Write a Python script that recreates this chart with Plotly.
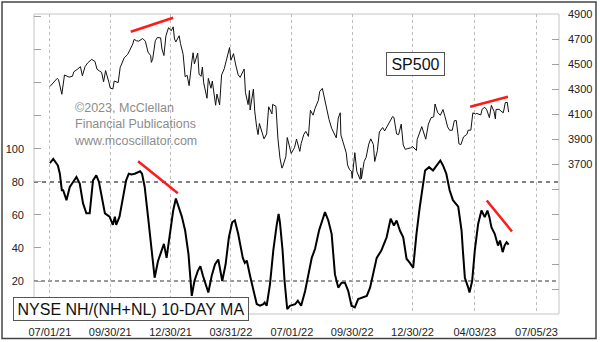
import plotly.graph_objects as go

# ---- S&P 500 daily closes (sampled) ----
sp_dates = [
    "2021-07-01", "2021-07-07", "2021-07-12", "2021-07-14", "2021-07-19", "2021-07-23", "2021-07-27",
    "2021-07-30", "2021-08-04", "2021-08-06", "2021-08-12", "2021-08-16", "2021-08-19", "2021-08-23",
    "2021-08-27", "2021-09-02", "2021-09-07", "2021-09-10", "2021-09-14", "2021-09-17", "2021-09-20",
    "2021-09-23", "2021-09-28", "2021-09-30", "2021-10-04", "2021-10-06", "2021-10-12", "2021-10-15",
    "2021-10-21", "2021-10-26", "2021-10-29", "2021-11-03", "2021-11-05", "2021-11-09", "2021-11-12",
    "2021-11-18", "2021-11-22", "2021-11-26", "2021-11-30", "2021-12-01", "2021-12-03", "2021-12-07",
    "2021-12-10", "2021-12-15", "2021-12-17", "2021-12-20", "2021-12-23", "2021-12-27", "2021-12-31",
    "2022-01-03", "2022-01-05", "2022-01-07", "2022-01-12", "2022-01-14", "2022-01-18", "2022-01-21",
    "2022-01-24", "2022-01-27", "2022-01-31", "2022-02-02", "2022-02-04", "2022-02-09", "2022-02-11",
    "2022-02-14", "2022-02-16", "2022-02-18", "2022-02-23", "2022-02-25", "2022-03-01", "2022-03-03",
    "2022-03-08", "2022-03-10", "2022-03-14", "2022-03-17", "2022-03-21", "2022-03-25", "2022-03-29",
    "2022-03-31", "2022-04-04", "2022-04-07", "2022-04-11", "2022-04-14", "2022-04-20", "2022-04-22",
    "2022-04-26", "2022-04-28", "2022-04-29", "2022-05-04", "2022-05-06", "2022-05-09", "2022-05-11",
    "2022-05-13", "2022-05-18", "2022-05-20", "2022-05-24", "2022-05-27", "2022-06-01", "2022-06-02",
    "2022-06-07", "2022-06-10", "2022-06-13", "2022-06-16", "2022-06-17", "2022-06-22", "2022-06-24",
    "2022-06-28", "2022-06-30", "2022-07-05", "2022-07-08", "2022-07-13", "2022-07-15", "2022-07-19",
    "2022-07-22", "2022-07-26", "2022-07-29", "2022-08-02", "2022-08-05", "2022-08-10", "2022-08-12",
    "2022-08-16", "2022-08-19", "2022-08-23", "2022-08-26", "2022-08-30", "2022-09-01", "2022-09-06",
    "2022-09-09", "2022-09-12", "2022-09-13", "2022-09-16", "2022-09-21", "2022-09-23", "2022-09-26",
    "2022-09-29", "2022-09-30", "2022-10-04", "2022-10-07", "2022-10-12", "2022-10-13", "2022-10-14",
    "2022-10-18", "2022-10-21", "2022-10-25", "2022-10-28", "2022-11-01", "2022-11-03", "2022-11-07",
    "2022-11-10", "2022-11-15", "2022-11-18", "2022-11-22", "2022-11-25", "2022-11-30", "2022-12-02",
    "2022-12-06", "2022-12-09", "2022-12-13", "2022-12-16", "2022-12-19", "2022-12-22", "2022-12-27",
    "2022-12-30", "2023-01-05", "2023-01-06", "2023-01-11", "2023-01-13", "2023-01-19", "2023-01-23",
    "2023-01-27", "2023-01-31", "2023-02-02", "2023-02-06", "2023-02-10", "2023-02-14", "2023-02-17",
    "2023-02-21", "2023-02-24", "2023-02-28", "2023-03-03", "2023-03-06", "2023-03-09", "2023-03-10",
    "2023-03-13", "2023-03-15", "2023-03-17", "2023-03-22", "2023-03-24", "2023-03-28", "2023-03-31",
    "2023-04-04", "2023-04-06", "2023-04-12", "2023-04-14", "2023-04-18", "2023-04-21", "2023-04-25",
    "2023-04-28", "2023-05-02", "2023-05-04", "2023-05-05", "2023-05-10", "2023-05-12", "2023-05-16",
    "2023-05-19", "2023-05-22", "2023-05-24",
]
sp_close = [
    4320, 4358, 4385, 4375, 4258, 4412, 4401,
    4395, 4402, 4437, 4460, 4479, 4406, 4479,
    4509, 4537, 4520, 4459, 4443, 4433, 4358,
    4448, 4353, 4308, 4300, 4364, 4351, 4471,
    4549, 4575, 4605, 4660, 4697, 4685, 4683,
    4704, 4682, 4595, 4567, 4513, 4538, 4686,
    4712, 4709, 4620, 4568, 4725, 4791, 4766,
    4797, 4700, 4677, 4726, 4663, 4577, 4398,
    4410, 4327, 4516, 4590, 4501, 4587, 4419,
    4401, 4475, 4349, 4226, 4385, 4306, 4364,
    4170, 4260, 4173, 4412, 4462, 4543, 4632,
    4530, 4583, 4500, 4413, 4393, 4460, 4272,
    4175, 4288, 4132, 4300, 4123, 3991, 3935,
    4024, 3923, 3901, 3941, 4158, 4101, 4177,
    4161, 3901, 3750, 3667, 3675, 3760, 3912,
    3821, 3785, 3831, 3899, 3801, 3863, 3936,
    3962, 3921, 4130, 4091, 4145, 4210, 4280,
    4305, 4228, 4128, 4058, 3986, 3967, 3909,
    4067, 4110, 3932, 3873, 3790, 3693, 3655,
    3640, 3586, 3791, 3640, 3577, 3669, 3583,
    3720, 3752, 3859, 3901, 3856, 3720, 3807,
    3956, 3992, 3965, 4003, 4026, 4080, 4072,
    3941, 3934, 4019, 3852, 3818, 3822, 3829,
    3840, 3808, 3895, 3970, 3999, 3899, 4020,
    4070, 4077, 4180, 4111, 4090, 4136, 4079,
    3997, 3970, 3970, 4046, 4048, 3919, 3862,
    3855, 3892, 3917, 3937, 3971, 3971, 4109,
    4100, 4105, 4092, 4138, 4154, 4133, 4071,
    4169, 4120, 4061, 4136, 4138, 4124, 4110,
    4192, 4192, 4115,
]

# ---- NYSE new highs / (new highs + new lows), 10-day moving average ----
nh_dates = [
    "2021-07-01", "2021-07-06", "2021-07-13", "2021-07-16", "2021-07-19", "2021-07-21", "2021-07-26",
    "2021-07-31", "2021-08-05", "2021-08-10", "2021-08-15", "2021-08-20", "2021-08-25", "2021-08-30",
    "2021-09-04", "2021-09-09", "2021-09-13", "2021-09-18", "2021-09-22", "2021-09-29", "2021-10-04",
    "2021-10-07", "2021-10-09", "2021-10-14", "2021-10-19", "2021-10-24", "2021-10-28", "2021-11-01",
    "2021-11-06", "2021-11-14", "2021-11-17", "2021-11-21", "2021-11-26", "2021-12-01", "2021-12-06",
    "2021-12-11", "2021-12-16", "2021-12-20", "2021-12-24", "2021-12-29", "2022-01-03", "2022-01-07",
    "2022-01-11", "2022-01-16", "2022-01-21", "2022-01-26", "2022-01-31", "2022-02-04", "2022-02-09",
    "2022-02-13", "2022-02-17", "2022-02-25", "2022-03-02", "2022-03-07", "2022-03-12", "2022-03-18",
    "2022-03-23", "2022-03-28", "2022-04-02", "2022-04-06", "2022-04-11", "2022-04-18", "2022-04-21",
    "2022-04-24", "2022-04-29", "2022-05-04", "2022-05-09", "2022-05-14", "2022-05-19", "2022-05-21",
    "2022-05-24", "2022-05-29", "2022-06-03", "2022-06-08", "2022-06-11", "2022-06-13", "2022-06-17",
    "2022-06-20", "2022-06-24", "2022-06-28", "2022-07-06", "2022-07-10", "2022-07-15", "2022-07-21",
    "2022-07-26", "2022-07-31", "2022-08-05", "2022-08-11", "2022-08-20", "2022-08-25", "2022-08-30",
    "2022-09-04", "2022-09-09", "2022-09-14", "2022-09-19", "2022-09-24", "2022-09-29", "2022-10-04",
    "2022-10-09", "2022-10-17", "2022-10-22", "2022-10-27", "2022-11-01", "2022-11-06", "2022-11-13",
    "2022-11-21", "2022-11-27", "2022-12-02", "2022-12-06", "2022-12-11", "2022-12-16", "2022-12-21",
    "2022-12-26", "2022-12-31", "2023-01-05", "2023-01-10", "2023-01-18", "2023-01-24", "2023-01-30",
    "2023-02-06", "2023-02-10", "2023-02-14", "2023-02-19", "2023-02-24", "2023-03-01", "2023-03-09",
    "2023-03-14", "2023-03-16", "2023-03-19", "2023-03-24", "2023-03-26", "2023-03-30", "2023-04-03",
    "2023-04-08", "2023-04-13", "2023-04-18", "2023-04-22", "2023-04-25", "2023-04-28", "2023-05-03",
    "2023-05-08", "2023-05-11", "2023-05-15", "2023-05-18", "2023-05-21", "2023-05-24",
]
nh_ratio = [
    91.4, 94, 90, 85, 75, 75, 69,
    77, 80, 83, 79, 67, 61, 61,
    81, 84, 80, 69, 61, 59, 54,
    59, 54, 59, 69, 81, 85, 84.5,
    85, 86.5, 85, 77, 59, 38.5, 22,
    32, 37.5, 42.5, 34, 48.6, 62.7, 70,
    65, 59, 50.6, 36.5, 11, 20, 26,
    29, 23, 13, 23, 30, 33, 20,
    30, 46.5, 55.6, 56.7, 48.6, 34, 31,
    32.4, 23, 14, 6, 5, 6, 7,
    5, 18, 38.5, 53.6, 60.7, 55.6, 38.5,
    20, 3, 5, 6, 8, 5, 14,
    24, 34, 39.5, 50.6, 61.7, 56.7, 48.6,
    24, 16, 19, 19, 14, 5, 4,
    9, 10, 11, 16, 26, 34, 38.5,
    46.5, 57.7, 53.6, 56.7, 50.6, 46.5, 33.5,
    31, 28, 48.6, 65, 87, 89, 87,
    91, 93, 90, 85, 75, 69, 65,
    50.6, 38.5, 22, 16, 13, 20, 38.5,
    54.6, 62.7, 58.7, 62.7, 58.7, 52.6, 48.6,
    41.5, 44.5, 37.5, 41.5, 43.5, 42,
]

# ---- divergence trend lines (start, end) in data units ----
sp_trend_lines = [
    (("2021-10-31", 4758), ("2022-01-03", 4870)),
    (("2023-03-27", 4158), ("2023-05-23", 4238)),
]
nh_trend_lines = [
    (("2021-11-11", 92.6), ("2022-01-10", 73.2)),
    (("2023-04-21", 68.8), ("2023-05-29", 50.0)),
]

# ---- axes ----
x_tick_dates = ["2021-07-01", "2021-09-30", "2021-12-30", "2022-03-31", "2022-07-01",
                "2022-09-30", "2022-12-30", "2023-04-03", "2023-07-05"]
x_tick_text = ["07/01/21", "09/30/21", "12/30/21", "03/31/22", "07/01/22",
               "09/30/22", "12/30/22", "04/03/23", "07/05/23"]
left_tick_vals = [0, 20, 40, 60, 80, 100, 120, 140, 160, 180]
left_tick_text = ["", "20", "40", "60", "80", "100", "", "", "", ""]
right_tick_vals = [2500, 2700, 2900, 3100, 3300, 3500, 3700, 3900, 4100, 4300, 4500, 4700, 4900]
right_tick_text = ["", "", "", "", "", "", "3700", "3900", "4100", "4300", "4500", "4700", "4900"]
ref_levels = [80, 20]

FONT = "Liberation Sans, Arial, sans-serif"

fig = go.Figure()
fig.add_trace(go.Scatter(
    x=nh_dates, y=nh_ratio, mode="lines", yaxis="y",
    line=dict(color="#000000", width=2), hoverinfo="skip",
))
fig.add_trace(go.Scatter(
    x=sp_dates, y=sp_close, mode="lines", yaxis="y2",
    line=dict(color="#111111", width=1), hoverinfo="skip",
))

shapes = []
# plot frame
shapes.append(dict(type="rect", xref="paper", yref="paper", x0=0, x1=1, y0=0, y1=1,
                   line=dict(color="#c4c4c4", width=1), layer="below"))
# outer picture frame
shapes.append(dict(type="rect", xref="paper", yref="paper",
                   x0=(2 - 34) / 525, x1=(596 - 34) / 525,
                   y0=(314 - 338.5) / 300, y1=(314 - 2) / 300,
                   line=dict(color="#444444", width=1.5)))
# reference levels on the breadth scale
ref_styles = {80: dict(color="#555555", width=1.5, dash="4px,4px"),
              20: dict(color="#333333", width=1, dash="4px,3px")}
for lvl in ref_levels:
    shapes.append(dict(type="line", xref="paper", yref="y", x0=0, x1=1, y0=lvl, y1=lvl,
                       line=ref_styles[lvl], layer="below"))
for (xa, ya), (xb, yb) in sp_trend_lines:
    shapes.append(dict(type="line", xref="x", yref="y2", x0=xa, y0=ya, x1=xb, y1=yb,
                       line=dict(color="#ff1a1a", width=2.5)))
for (xa, ya), (xb, yb) in nh_trend_lines:
    shapes.append(dict(type="line", xref="x", yref="y", x0=xa, y0=ya, x1=xb, y1=yb,
                       line=dict(color="#ff1a1a", width=2.5)))

annotations = [
    dict(text="SP500", xref="paper", yref="paper", x=(415.5 - 34) / 525, y=(314 - 64) / 300,
         showarrow=False, font=dict(family=FONT, size=16, color="#111111"),
         bgcolor="white", bordercolor="#555555", borderwidth=1, borderpad=1,
         width=55, height=20, xanchor="center", yanchor="middle"),
    dict(text="NYSE NH/(NH+NL) 10-DAY MA", xref="paper", yref="paper",
         x=(131 - 34) / 525, y=(314 - 309) / 300,
         showarrow=False, font=dict(family=FONT, size=16, color="#111111"),
         bgcolor="white", bordercolor="#555555", borderwidth=1, borderpad=1,
         width=232, height=20, xanchor="center", yanchor="middle"),
    dict(text="©2023, McClellan<br>Financial Publications<br>www.mcoscillator.com",
         xref="paper", yref="paper", x=(72 - 34) / 525, y=(314 - 99) / 300,
         xanchor="left", yanchor="top", align="left", showarrow=False,
         font=dict(family=FONT, size=12.5, color="#8c8c8c")),
]

fig.update_layout(
    width=600, height=342,
    margin=dict(l=34, r=41, t=14, b=28, autoexpand=False),
    paper_bgcolor="white", plot_bgcolor="white",
    showlegend=False,
    font=dict(family=FONT, size=11, color="#222222"),
    shapes=shapes, annotations=annotations,
    xaxis=dict(
        type="date", range=["2021-06-07", "2023-08-08"], automargin=False,
        tickmode="array", tickvals=x_tick_dates, ticktext=x_tick_text,
        showgrid=True, gridcolor="#bdbdbd", griddash="dot", gridwidth=1,
        ticks="", showline=False, zeroline=False, ticklabelstandoff=10,
        tickfont=dict(family=FONT, size=11, color="#222222"),
    ),
    yaxis=dict(
        range=[0, 181.8], tickmode="array", tickvals=left_tick_vals, ticktext=left_tick_text,
        ticks="inside", ticklen=7, tickcolor="#a0a0a0", tickwidth=1, automargin=False,
        showgrid=False, zeroline=False, showline=False, ticklabelstandoff=9,
        tickfont=dict(family=FONT, size=11, color="#222222"),
    ),
    yaxis2=dict(
        overlaying="y", side="right", range=[2500, 4900], automargin=False,
        tickmode="array", tickvals=right_tick_vals, ticktext=right_tick_text,
        ticks="inside", ticklen=7, tickcolor="#a0a0a0", tickwidth=1,
        showgrid=False, zeroline=False, showline=False, ticklabelstandoff=8,
        tickfont=dict(family=FONT, size=11, color="#222222"),
    ),
)

fig.write_html("out.html")
